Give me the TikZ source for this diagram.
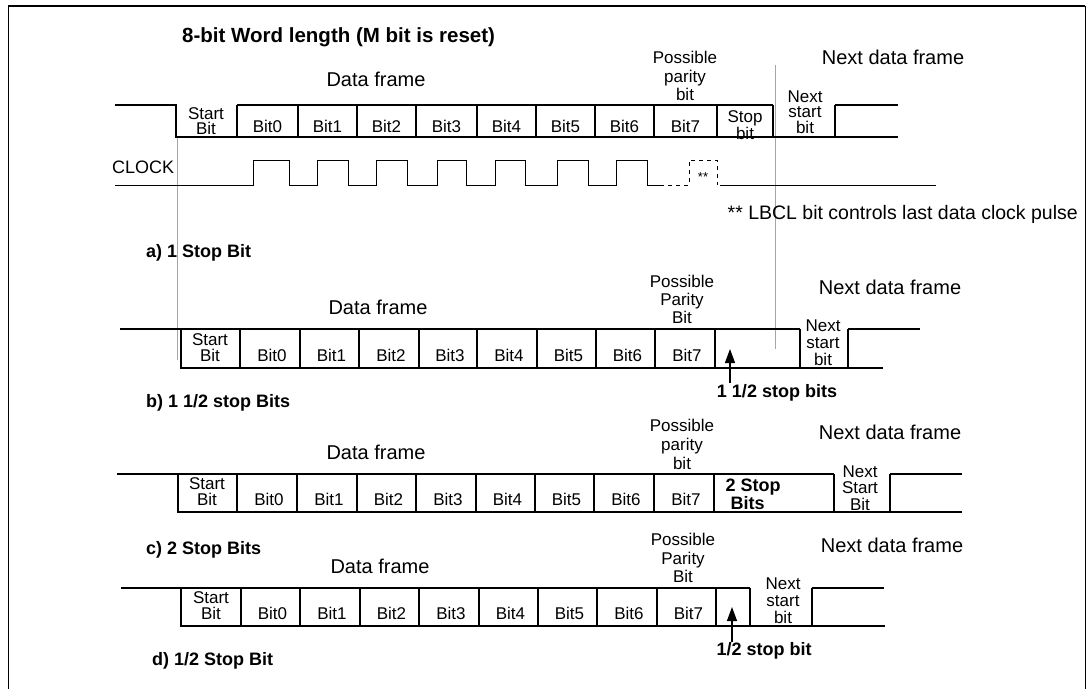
\documentclass[tikz,border=0pt]{standalone}
\usepackage{fontspec}
\setmainfont{Liberation Sans}
\usetikzlibrary{arrows.meta}
\begin{document}
\begin{tikzpicture}[x=1pt,y=-1pt,
  wave/.style={line width=1.1pt,black},
  gl/.style={line width=0.6pt,gray!70},
  bt/.style={font=\fontsize{17}{17}\selectfont,inner sep=0pt},
  sm/.style={inner sep=0pt,align=center},
  big/.style={font=\fontsize{20}{20}\selectfont,inner sep=0pt},
  hd/.style={font=\bfseries\fontsize{18}{18}\selectfont,inner sep=0pt,anchor=west}]
\useasboundingbox (0,0) rectangle (1091,688);
% frame
\draw[line width=1.6pt] (8,6) -- (1085,6);
\draw[line width=1pt] (8,6) -- (8,700) (1085,6) -- (1085,700);
% gray lines
\draw[gl] (177,137) -- (177,360);
\draw[gl] (775,65) -- (775,349);
% ---------- a
\node[font=\bfseries\fontsize{20.5}{20}\selectfont,inner sep=0pt,anchor=west] (ttl) at (182,37) {8-bit Word length (M bit is reset)};
\node[big] (dfa) at (376,79) {Data frame};
\node[sm,font=\fontsize{17}{18.5}\selectfont] (ppa) at (685,76) {Possible\\parity\\bit};
\node[big] (nfa) at (893,57) {Next data frame};
\draw[wave] (115,105) -- (176,105) -- (176,137) -- (898,137);
\draw[wave] (237,105) -- (773,105);
\draw[wave] (835,105) -- (898,105);
\foreach \x in {237,298,357,416,477,536,595,654,717,773,835} \draw[wave] (\x,105) -- (\x,137);
\node[sm,font=\fontsize{17}{15}\selectfont] (sba) at (206,121) {Start\\Bit};
\foreach \a/\b/\n in {237/298/0,298/357/1,357/416/2,416/477/3,477/536/4,536/595/5,595/654/6,654/717/7}
  \node[bt] (a\n) at ({(\a+\b)/2},126) {Bit\n};
\node[sm,font=\fontsize{17}{15}\selectfont] (spa) at (745,125) {Stop\\bit};
\node[sm,font=\fontsize{17}{15.5}\selectfont] (nsa) at (805,112) {Next\\start\\bit};
% clock
\node[bt,anchor=west,font=\fontsize{18}{18}\selectfont] (clk) at (112,167) {CLOCK};
\draw[wave,line width=1pt] (115,185) -- (253,185)
  -- (253,160) -- (289,160) -- (289,185) -- (317,185)
  -- (317,160) -- (348,160) -- (348,185) -- (376,185)
  -- (376,160) -- (407,160) -- (407,185) -- (437,185)
  -- (437,160) -- (466,160) -- (466,185) -- (495,185)
  -- (495,160) -- (525,160) -- (525,185) -- (557,185)
  -- (557,160) -- (588,160) -- (588,185) -- (616,185)
  -- (616,160) -- (647,160) -- (647,185) -- (660,185);
\draw[wave,line width=1pt,dash pattern=on 4pt off 4pt] (660,185) -- (689,185) -- (689,160) -- (717,160) -- (717,185);
\draw[wave,line width=1pt] (720,185) -- (936,185);
\node[font=\fontsize{13}{13}\selectfont,inner sep=0pt] (ast) at (703,177) {**};
\node[bt,anchor=east,font=\fontsize{19.5}{19}\selectfont] (lbcl) at (1078,214) {** LBCL bit controls last data clock pulse};
\node[hd] (la) at (146,253) {a) 1 Stop Bit};
% ---------- b
\node[big] (dfb) at (378,307) {Data frame};
\node[sm,font=\fontsize{17}{18}\selectfont] (ppb) at (682,299) {Possible\\Parity\\Bit};
\node[big] (nfb) at (890,287) {Next data frame};
\draw[wave] (120,329) -- (800,329);
\draw[wave] (181,329) -- (181,368) -- (883,368);
\draw[wave] (848,329) -- (920,329);
\foreach \x in {240,300,359,419,477,537,596,655,715,800,848} \draw[wave] (\x,329) -- (\x,368);
\node[sm,font=\fontsize{17}{16}\selectfont] (sbb) at (210,348) {Start\\Bit};
\foreach \a/\b/\n in {240/300/0,300/359/1,359/419/2,419/477/3,477/537/4,537/596/5,596/655/6,655/715/7}
  \node[bt] (b\n) at ({(\a+\b)/2+2},355) {Bit\n};
\node[sm,font=\fontsize{17}{17}\selectfont] (nsb) at (823,343) {Next\\start\\bit};
\coordinate (arb0) at (730,383);
\coordinate (arb1) at (730,349);
\draw[line width=1.2pt,-{Triangle[length=14pt,width=10pt]}] (arb0) -- (arb1);
\node[hd,anchor=center] (lbb) at (777,393) {1 1/2 stop bits};
\node[hd] (lb) at (146,403) {b) 1 1/2 stop Bits};
% ---------- c
\node[big] (dfc) at (376,452) {Data frame};
\node[sm,font=\fontsize{17}{19}\selectfont] (ppc) at (682,444) {Possible\\parity\\bit};
\node[big] (nfc) at (890,432) {Next data frame};
\draw[wave] (117,474) -- (834,474);
\draw[wave] (178,474) -- (178,512) -- (962,512);
\draw[wave] (890,474) -- (962,474);
\foreach \x in {237,297,357,416,476,535,594,654,714,834,890} \draw[wave] (\x,474) -- (\x,512);
\node[sm,font=\fontsize{17}{16}\selectfont] (sbc) at (207,492) {Start\\Bit};
\foreach \a/\b/\n in {237/297/0,297/357/1,357/416/2,416/476/3,476/535/4,535/594/5,594/654/6,654/714/7}
  \node[bt] (c\n) at ({(\a+\b)/2+2},499) {Bit\n};
\node[font=\bfseries\fontsize{18}{16}\selectfont,inner sep=0pt,align=left] (tsb) at (753,494) {2 Stop\\ \ Bits};
\node[sm,font=\fontsize{17}{16.5}\selectfont] (nsc) at (860,488) {Next\\Start\\Bit};
\node[hd] (lc) at (146,550) {c) 2 Stop Bits};
% ---------- d
\node[big] (dfd) at (380,566) {Data frame};
\node[sm,font=\fontsize{17}{18.5}\selectfont] (ppd) at (683,558) {Possible\\Parity\\Bit};
\node[big] (nfd) at (892,545) {Next data frame};
\draw[wave] (121,588) -- (750,588);
\draw[wave] (181,588) -- (181,626) -- (885,626);
\draw[wave] (812,588) -- (884,588);
\foreach \x in {241,300,360,419,479,538,597,657,716,750,812} \draw[wave] (\x,588) -- (\x,626);
\node[sm,font=\fontsize{17}{16}\selectfont] (sbd) at (211,606) {Start\\Bit};
\foreach \a/\b/\n in {241/300/0,300/360/1,360/419/2,419/479/3,479/538/4,538/597/5,597/657/6,657/716/7}
  \node[bt] (d\n) at ({(\a+\b)/2+2},613) {Bit\n};
\node[sm,font=\fontsize{17}{17}\selectfont] (nsd) at (783,601) {Next\\start\\bit};
\coordinate (ard0) at (732,642);
\coordinate (ard1) at (732,607);
\draw[line width=1.2pt,-{Triangle[length=14pt,width=10pt]}] (ard0) -- (ard1);
\node[hd,anchor=center] (lbd) at (764,651) {1/2 stop bit};
\node[hd] (ld) at (152,661) {d) 1/2 Stop Bit};
\end{tikzpicture}
\end{document}
